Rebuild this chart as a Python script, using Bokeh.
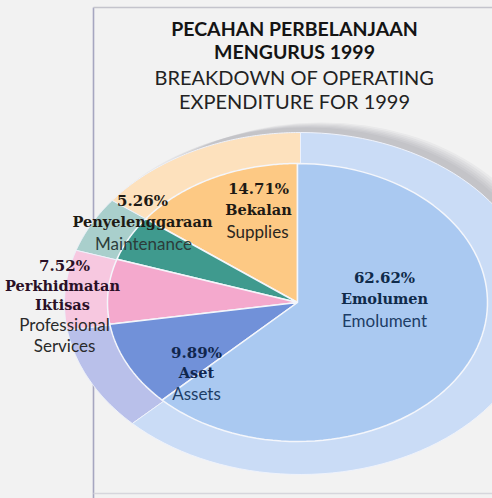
import numpy as np
from bokeh.plotting import figure
from bokeh.models import Range1d
from bokeh.core.properties import value
from bokeh.embed import file_html
from bokeh.resources import INLINE

# ---- data ----
names_ms = ["Bekalan", "Penyelenggaraan", "Perkhidmatan Iktisas", "Aset", "Emolumen"]
names_en = ["Supplies", "Maintenance", "Professional Services", "Assets", "Emolument"]
shares = [14.71, 5.26, 7.52, 9.89, 62.62]
pct_labels = ["14.71%", "5.26%", "7.52%", "9.89%", "62.62%"]
title_ms = ["PECAHAN PERBELANJAAN", "MENGURUS 1999"]
title_en = ["BREAKDOWN OF OPERATING", "EXPENDITURE FOR 1999"]

# ---- styles ----
inner_colors = ["#fdc984", "#3f9a8e", "#f4a9cd", "#7191d9", "#aac9f1"]
ring_colors = ["#fde1bd", "#a9cfcc", "#f7c8e0", "#b9c0ea", "#cadcf6"]
BG = "#f2f2f2"

p = figure(width=492, height=498, output_backend="svg", toolbar_location=None,
           x_range=Range1d(0, 492), y_range=Range1d(498, 0), min_border=0)
p.axis.visible = False
p.grid.visible = False
p.outline_line_color = None
p.background_fill_color = BG
p.border_fill_color = BG

# frame lines
p.segment(x0=[93, 93, 93], y0=[7, 7, 493], x1=[93, 492, 492], y1=[498, 7, 493],
          line_color=["#a6a6c0", "#c4c4cc", "#d6d6dc"], line_width=1.6)

# soft shadow behind top-right of ring
for k in range(6):
    p.ellipse(x=[300 + 6 + 3 * k], y=[303 - 5 - 3 * k], width=[2 * 236 - 4 * k],
              height=[2 * 171 - 4 * k], fill_color="#85858f", fill_alpha=0.08, line_color=None)


def wedge(cx, cy, rx, ry, t0, t1, n=90):
    t = np.radians(np.linspace(t0, t1, n))
    xs = np.concatenate([[cx], cx + rx * np.cos(t)])
    ys = np.concatenate([[cy], cy - ry * np.sin(t)])
    return xs, ys


cum = np.concatenate([[0], np.cumsum(shares)])
starts = 90 + 360 * cum[:-1] / cum[-1]
ends = 90 + 360 * cum[1:] / cum[-1]

# outer ring
oxs, oys = [], []
for s, e in zip(starts, ends):
    xs, ys = wedge(300, 303, 236, 171, s, e)
    oxs.append(xs); oys.append(ys)
p.patches(oxs, oys, fill_color=ring_colors, line_color="#eef2fb", line_width=1)

# inner pie
ixs, iys = [], []
for s, e in zip(starts, ends):
    xs, ys = wedge(297, 302, 190, 139, s, e)
    ixs.append(xs); iys.append(ys)
p.patches(ixs, iys, fill_color=inner_colors, line_color="#f4f6fb", line_width=1.5)

# titles
SANS = value("Lato")
SERIF = value("DejaVu Serif")
p.text(x=[294, 294], y=[28, 51], text=title_ms, text_font=SANS, text_font_style="bold",
       text_font_size="19.5px", text_align="center", text_baseline="middle", text_color="#141414")
p.text(x=[294, 294], y=[76, 100], text=title_en, text_font=SANS,
       text_font_size="20px", text_align="center", text_baseline="middle", text_color="#222222")

# slice labels (positions are layout, text comes from data)
pct_pos = [(258, 188), (142, 200), (64, 265), (196, 352), (384, 277)]
ms_pos = [[(258, 209)], [(142, 221)], [(62, 285), (62, 304)], [(196, 372)], [(384, 298)]]
en_pos = [[(257, 231)], [(143, 243)], [(64, 324), (64, 345)], [(196, 393)], [(384, 320)]]
txt_dark = ["#1e1a14", "#1e1a14", "#2a1026", "#10264d", "#0f2a4a"]
txt_en = ["#2a2620", "#2c3c3a", "#2a2a2a", "#1d3d66", "#1d3d66"]

for i in range(len(shares)):
    p.text(x=[pct_pos[i][0]], y=[pct_pos[i][1]], text=[pct_labels[i]], text_font=SERIF,
           text_font_style="bold", text_font_size="15px", text_align="center",
           text_baseline="middle", text_color=txt_dark[i])
    words = names_ms[i].split(" ") if len(ms_pos[i]) > 1 else [names_ms[i]]
    for w, (x, y) in zip(words, ms_pos[i]):
        p.text(x=[x], y=[y], text=[w], text_font=SERIF, text_font_style="bold",
               text_font_size="14.5px", text_align="center", text_baseline="middle",
               text_color=txt_dark[i])
    words = names_en[i].split(" ") if len(en_pos[i]) > 1 else [names_en[i]]
    for w, (x, y) in zip(words, en_pos[i]):
        p.text(x=[x], y=[y], text=[w], text_font=SANS, text_font_size="17px",
               text_align="center", text_baseline="middle", text_color=txt_en[i])

html = file_html(p, INLINE)
html = html.replace("<body>", '<body style="background:#f2f2f2">')
open("out.html", "w").write(html)
